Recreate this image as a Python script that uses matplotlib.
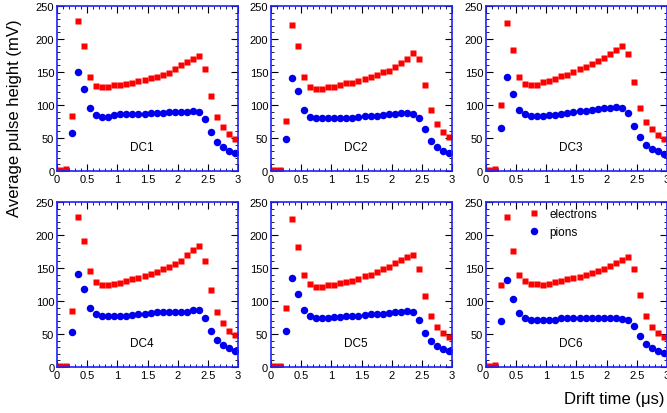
import numpy as np
import matplotlib
matplotlib.use("Agg")
import matplotlib.pyplot as plt
from matplotlib.ticker import MultipleLocator

plt.rcParams['font.family'] = ['Liberation Sans', 'DejaVu Sans']

# drift time bin centres (us)
t = [0.05, 0.15, 0.25, 0.35, 0.45, 0.55, 0.65, 0.75, 0.85, 0.95,
     1.05, 1.15, 1.25, 1.35, 1.45, 1.55, 1.65, 1.75, 1.85, 1.95,
     2.05, 2.15, 2.25, 2.35, 2.45, 2.55, 2.65, 2.75, 2.85, 2.95]
t_pi = t[2:]

chambers = ["DC1", "DC2", "DC3", "DC4", "DC5", "DC6"]

# electrons (mV)
el_dc1 = [2, 3, 83, 227, 190, 143, 129, 127, 128, 130, 131, 132, 134, 136, 138,
          141, 143, 146, 149, 155, 160, 165, 170, 174, 155, 113, 82, 66, 56, 49]
el_dc2 = [1, 2, 76, 221, 189, 143, 128, 124, 125, 127, 128, 130, 133, 134, 137,
          140, 142, 146, 150, 152, 157, 164, 170, 179, 170, 131, 93, 71, 59, 52]
el_dc3 = [1, 3, 100, 224, 183, 143, 132, 131, 131, 135, 137, 140, 144, 146, 150,
          154, 157, 162, 167, 171, 177, 183, 190, 177, 135, 96, 74, 63, 55, 49]
el_dc4 = [1, 2, 85, 228, 191, 145, 129, 124, 124, 126, 128, 130, 133, 135, 138,
          141, 144, 148, 151, 156, 161, 170, 178, 183, 161, 116, 84, 66, 55, 49]
el_dc5 = [1, 2, 89, 224, 182, 139, 126, 122, 122, 125, 125, 127, 129, 131, 134,
          138, 140, 144, 148, 152, 157, 162, 167, 170, 148, 107, 77, 61, 52, 46]
el_dc6 = [1, 3, 124, 227, 176, 140, 130, 126, 126, 124, 126, 129, 131, 133, 135,
          137, 140, 142, 145, 149, 153, 158, 162, 166, 148, 109, 78, 61, 52, 46]

# pions (mV), from 0.25 us on
pi_dc1 = [57, 150, 125, 95, 85, 82, 82, 85, 86, 86, 87, 87, 86, 88, 88,
          88, 89, 89, 89, 90, 91, 90, 79, 59, 44, 36, 31, 27]
pi_dc2 = [48, 141, 121, 92, 82, 80, 80, 80, 80, 80, 81, 81, 82, 83, 83,
          83, 85, 86, 86, 88, 88, 87, 81, 63, 46, 36, 31, 27]
pi_dc3 = [65, 143, 117, 92, 86, 84, 83, 84, 85, 85, 87, 88, 90, 91, 91,
          93, 94, 95, 96, 97, 96, 88, 68, 51, 40, 34, 30, 26]
pi_dc4 = [53, 141, 118, 90, 81, 78, 77, 77, 78, 78, 79, 80, 81, 82, 83,
          83, 83, 83, 84, 84, 86, 86, 74, 55, 41, 33, 29, 25]
pi_dc5 = [54, 135, 111, 87, 78, 75, 74, 75, 76, 76, 77, 77, 78, 79, 80,
          80, 81, 82, 83, 84, 85, 83, 71, 52, 39, 32, 27, 24]
pi_dc6 = [70, 132, 103, 82, 75, 71, 71, 72, 72, 72, 74, 74, 74, 74, 74,
          74, 74, 74, 74, 74, 73, 72, 62, 47, 35, 29, 24, 21]

electrons = [el_dc1, el_dc2, el_dc3, el_dc4, el_dc5, el_dc6]
pions = [pi_dc1, pi_dc2, pi_dc3, pi_dc4, pi_dc5, pi_dc6]

fig = plt.figure(figsize=(6.67, 4.14), dpi=100)
lefts = [0.0855, 0.4063, 0.7286]
bottoms = [0.5845, 0.111]
w, h = 0.2714, 0.3986

for i in range(6):
    ax = fig.add_axes([lefts[i % 3], bottoms[i // 3], w, h])
    ax.plot(t, electrons[i], 's', color='#ff0000', ms=5, mec='none', label='electrons')
    ax.plot(t_pi, pions[i], 'o', color='#0000ee', ms=5.4, mec='none', label='pions')
    ax.set_xlim(0, 3)
    ax.set_ylim(0, 250)
    ax.xaxis.set_major_locator(MultipleLocator(0.5))
    ax.xaxis.set_minor_locator(MultipleLocator(0.1))
    ax.yaxis.set_major_locator(MultipleLocator(50))
    ax.yaxis.set_minor_locator(MultipleLocator(10))
    ax.set_xticks([0, 0.5, 1, 1.5, 2, 2.5, 3])
    ax.set_xticklabels(['0', '0.5', '1', '1.5', '2', '2.5', '3'])
    ax.tick_params(which='both', direction='in', top=True, right=True,
                   labelsize=8, pad=2, colors='black')
    ax.tick_params(which='major', length=5, width=0.8)
    ax.tick_params(which='minor', length=2.5, width=0.6)
    for s in ax.spines.values():
        s.set_color('#2020ff')
        s.set_linewidth(1.2)
    ax.text(1.4, 36, chambers[i], ha='center', va='center', fontsize=8.5)
    if i == 5:
        ax.legend(loc='upper left', bbox_to_anchor=(0.2, 0.99), frameon=False,
                  fontsize=8.5, handletextpad=0.7, labelspacing=0.45,
                  borderaxespad=0, handlelength=1.2)

fig.text(0.022, 0.715, 'Average pulse height (mV)', rotation=90, ha='center',
         va='center', fontsize=12)
fig.text(0.997, 0.034, 'Drift time (\u03bcs)', ha='right', va='center', fontsize=12)

fig.savefig('out.png', dpi=100)
